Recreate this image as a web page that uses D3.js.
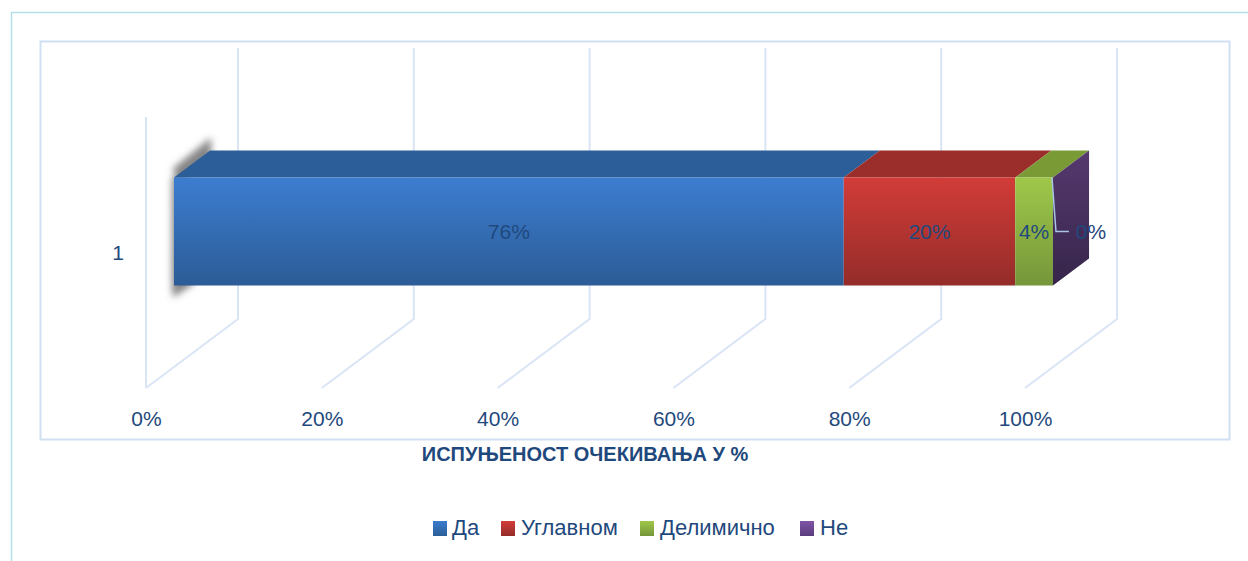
<!DOCTYPE html>
<html>
<head>
<meta charset="utf-8">
<script src="https://cdn.jsdelivr.net/npm/d3@7"></script>
<style>
  html, body { margin: 0; background: #fff; overflow: hidden; }
  text { font-family: "Liberation Sans", sans-serif; fill: #1f497d; }
</style>
</head>
<body>
<div class="canvas"></div>
<script>
const categories = ['1']
const seriesNames = ['Да', 'Углавном', 'Делимично', 'Не']
const seriesValues = [76.2, 19.5, 4.3, 0]
const xTicks = [0, 20, 40, 60, 80, 100]
const frontColors = [['#3c7dd0', '#2c5c96'], ['#d23c38', '#942c29'], ['#9fc84a', '#76963a'], ['#7f55a8', '#5a3d7c']]
const topColors = ['#2c5f99', '#9b2d2a', '#7a9a36', '#5f4080']
const sideColors = ['#56396f', '#36254a']
const legendX = [433, 501, 640, 800]

const width = 1248
const height = 561

const svg = d3.select('.canvas').append('svg')
  .attr('width', width)
  .attr('height', height)
const defs = svg.append('defs')

// floor/wall projection: x along the front edge, depth goes up and to the right
const x = d3.scaleLinear().domain([0, 100]).range([146, 1025])
const y = d3.scaleBand().domain(categories).range([117, 388]).paddingOuter(0.755)
const depthX = d3.scaleLinear().domain([0, 1]).range([0, 92])
const depthY = d3.scaleLinear().domain([0, 1]).range([0, -69])
const barDepth = [0.304, 0.696]

const project = (value, py, depth) => [x(value) + depthX(depth), py + depthY(depth)]
const poly = points => points.map(p => p.join(',')).join(' ')

const stacked = d3.stack().keys(seriesNames.map((d, i) => i))
  .value((row, key) => row[key])([seriesValues])
  .map(s => ({ index: s.key, x0: s[0][0], x1: s[0][1], value: seriesValues[s.key] }))

// outer page frame, runs off the right and bottom
svg.append('path')
  .attr('d', `M11.5,${height}V12.5H${width}`)
  .attr('fill', 'none')
  .attr('stroke', '#b5dfe9')
  .attr('stroke-width', 1.5)

// chart area frame
svg.append('rect')
  .attr('x', 40.5).attr('y', 41.5)
  .attr('width', 1189).attr('height', 398)
  .attr('fill', '#fff')
  .attr('stroke', '#d0dff2')
  .attr('stroke-width', 2)

// gridlines on the floor and back wall
const wallTop = 117
const wallBottom = 388
const grid = svg.append('g').attr('fill', 'none').attr('stroke', '#d9e5f5').attr('stroke-width', 2)
grid.selectAll('path').data(xTicks).join('path')
  .attr('d', d => {
    const a = project(d, wallBottom, 0)
    const b = project(d, wallBottom, 1)
    const c = project(d, wallTop, 1)
    return `M${a}L${b}L${c}`
  })
grid.append('path')
  .attr('d', `M${project(0, wallTop, 0)}L${project(0, wallBottom, 0)}`)

// axes are only used for their labels
const xAxis = svg.append('g')
  .attr('transform', 'translate(0, 408)')
  .call(d3.axisBottom(x).tickValues(xTicks).tickSize(0).tickFormat(d => d + '%'))
xAxis.select('.domain').remove()
xAxis.selectAll('text').attr('font-size', 21).attr('fill', '#1f497d').style('font-family', '"Liberation Sans", sans-serif')

const yAxis = svg.append('g')
  .attr('transform', 'translate(127, 1)')
  .call(d3.axisLeft(y).tickSize(0))
yAxis.select('.domain').remove()
yAxis.selectAll('text').attr('font-size', 21).attr('fill', '#1f497d').style('font-family', '"Liberation Sans", sans-serif')

// gradients
frontColors.forEach((c, i) => {
  const g = defs.append('linearGradient').attr('id', `front${i}`).attr('x1', 0).attr('x2', 0).attr('y1', 0).attr('y2', 1)
  g.append('stop').attr('offset', '0%').attr('stop-color', c[0])
  g.append('stop').attr('offset', '100%').attr('stop-color', c[1])
})
const sideGrad = defs.append('linearGradient').attr('id', 'side').attr('x1', 0).attr('x2', 0).attr('y1', 0).attr('y2', 1)
sideGrad.append('stop').attr('offset', '0%').attr('stop-color', sideColors[0])
sideGrad.append('stop').attr('offset', '100%').attr('stop-color', sideColors[1])
defs.append('filter').attr('id', 'blur').attr('x', '-50%').attr('y', '-50%').attr('width', '200%').attr('height', '200%')
  .append('feGaussianBlur').attr('stdDeviation', 3.5)

const barTop = y('1')
const barBottom = barTop + y.bandwidth()
const [d0, d1] = barDepth
const frontTop = project(0, barTop, d0)
const backTop = project(0, barTop, d1)
const frontBottom = project(0, barBottom, d0)

// soft shadow behind the bar's left end: along the top edge, down the side, under the corner
const shadow = svg.append('g').attr('fill', '#858585').attr('filter', 'url(#blur)')
shadow.append('polygon')
  .attr('points', poly([
    [frontTop[0] - 1, frontTop[1] - 9], [backTop[0] + 1, backTop[1] - 13],
    [backTop[0] + 1, backTop[1] + 10], [frontTop[0] + 4, frontTop[1] + 6]
  ]))
shadow.append('polygon')
  .attr('points', poly([
    [frontTop[0] - 2, frontTop[1]], [frontTop[0] + 4, frontTop[1]],
    [frontBottom[0] + 20, frontBottom[1] - 2], [frontBottom[0] - 1, frontBottom[1] + 12], [frontBottom[0] - 2, frontBottom[1]]
  ]))

const bar = svg.append('g')
bar.selectAll('.top').data(stacked.filter(d => d.value > 0)).join('polygon')
  .attr('class', 'top')
  .attr('points', d => poly([
    project(d.x0, barTop, d0), project(d.x1, barTop, d0),
    project(d.x1, barTop, d1), project(d.x0, barTop, d1)
  ]))
  .attr('fill', d => topColors[d.index])
bar.selectAll('.front').data(stacked.filter(d => d.value > 0)).join('polygon')
  .attr('class', 'front')
  .attr('points', d => poly([
    project(d.x0, barTop, d0), project(d.x1, barTop, d0),
    project(d.x1, barBottom, d0), project(d.x0, barBottom, d0)
  ]))
  .attr('fill', d => `url(#front${d.index})`)
bar.append('polygon')
  .attr('points', poly([
    project(100, barTop, d0), project(100, barTop, d1),
    project(100, barBottom, d1), project(100, barBottom, d0)
  ]))
  .attr('fill', 'url(#side)')

// leader line for the zero label
const labelY = project(0, (barTop + barBottom) / 2, d0)[1]
const anchor = project(100, barTop, d0)
svg.append('path')
  .attr('d', `M${anchor[0] - 1},${anchor[1]}L${anchor[0] + 3},${labelY}H${anchor[0] + 16}`)
  .attr('fill', 'none')
  .attr('stroke', '#a9c4e6')
  .attr('stroke-width', 1.5)

// data labels, the last one is pulled out beside the bar
svg.selectAll('.value').data(stacked).join('text')
  .attr('class', 'value')
  .attr('x', d => project((d.x0 + d.x1) / 2, 0, d0)[0] + (d.value > 0 ? 0 : 38))
  .attr('y', labelY + 7)
  .attr('text-anchor', 'middle')
  .attr('font-size', 21)
  .text(d => d3.format('.0f')(d.value) + '%')

svg.append('text')
  .attr('x', 585).attr('y', 461)
  .attr('text-anchor', 'middle')
  .attr('font-size', 20)
  .attr('font-weight', 'bold')
  .text('ИСПУЊЕНОСТ ОЧЕКИВАЊА У %')

// legend
const legend = svg.selectAll('.legend').data(seriesNames).join('g')
  .attr('class', 'legend')
  .attr('transform', (d, i) => `translate(${legendX[i]}, 521)`)
legend.append('rect')
  .attr('width', 14).attr('height', 15)
  .attr('fill', (d, i) => `url(#front${i})`)
legend.append('text')
  .attr('x', (d, i) => i === 0 ? 19 : 20)
  .attr('y', 14)
  .attr('font-size', 22)
  .text(d => d)
</script>
</body>
</html>
